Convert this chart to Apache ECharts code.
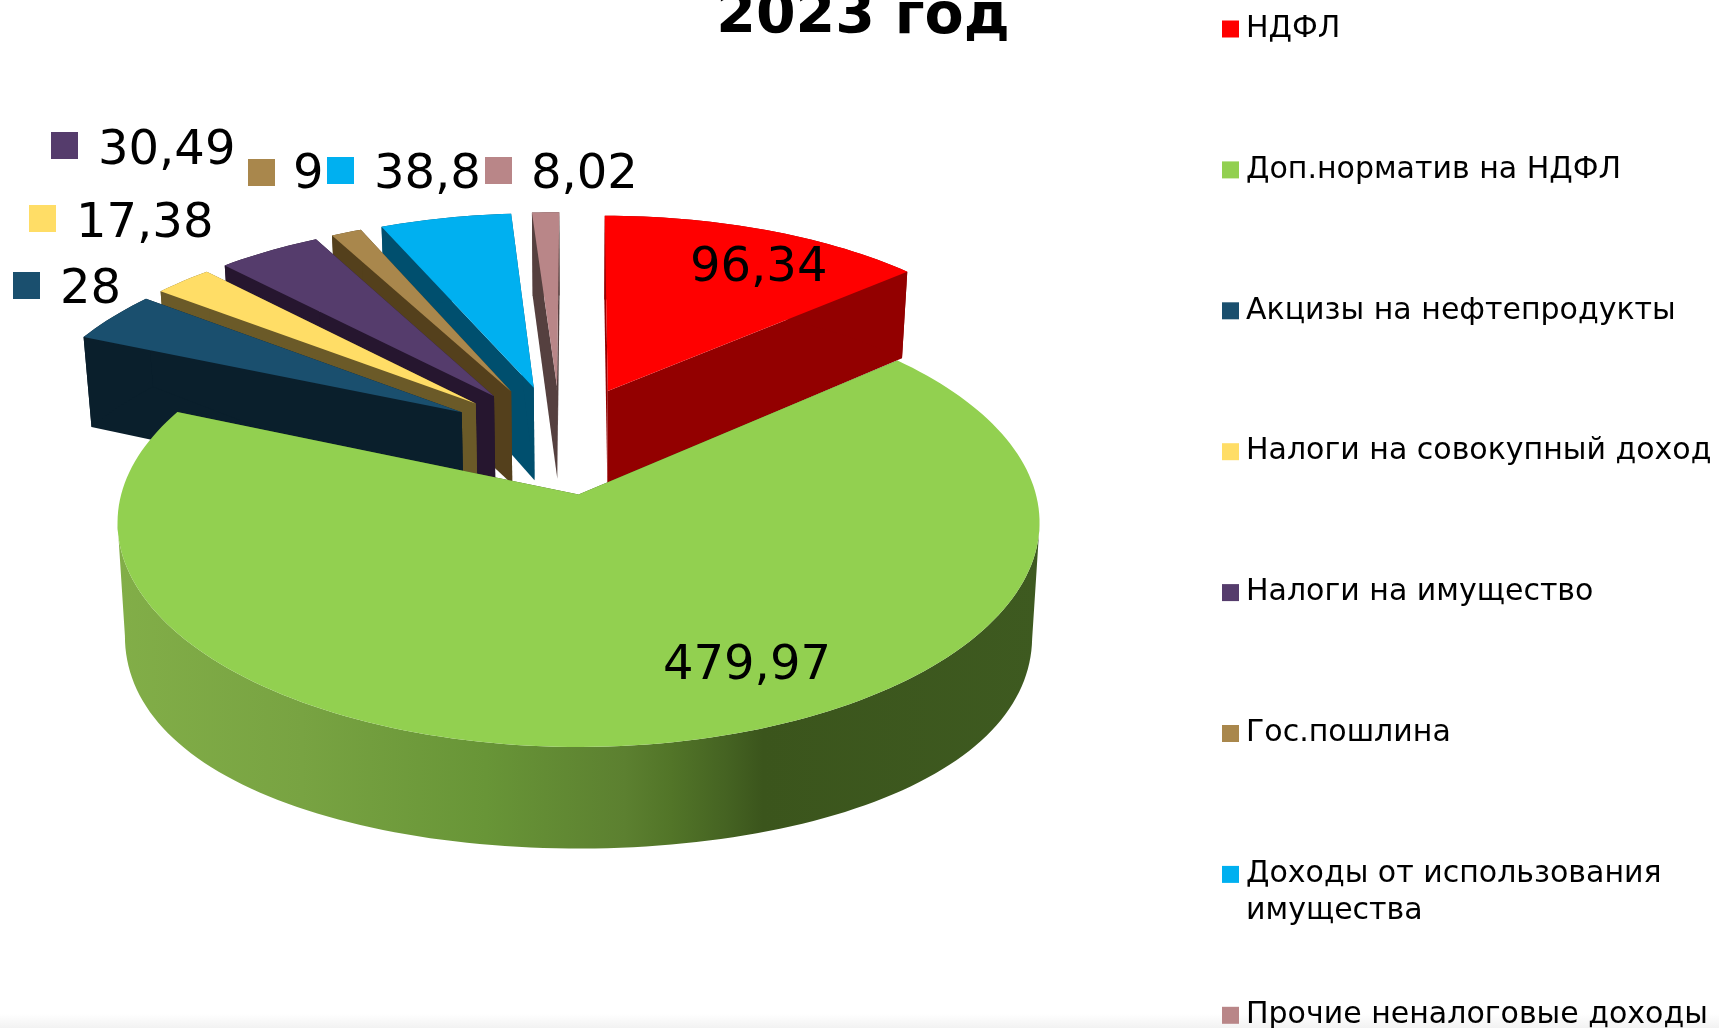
<!DOCTYPE html>
<html>
<head>
<meta charset="utf-8">
<title>2023 год</title>
<style>
  html, body { margin: 0; padding: 0; background: #fff; }
  #chart { width: 1719px; height: 1028px; }
</style>
<script src="https://cdn.jsdelivr.net/npm/echarts@6/dist/echarts.min.js"></script>
</head>
<body>
<div id="chart"></div>
<script>
const categories = [
  "НДФЛ",
  "Доп.норматив на НДФЛ",
  "Акцизы на нефтепродукты",
  "Налоги на совокупный доход",
  "Налоги на имущество",
  "Гос.пошлина",
  "Доходы от использования\nимущества",
  "Прочие неналоговые доходы",
];
const values = [96.34, 479.97, 28, 17.38, 30.49, 9, 38.8, 8.02];
const topColors = ["#ff0000", "#92d050", "#1a4f6e", "#ffdd66", "#553c6c", "#a9874c", "#00b0f0", "#b98688"];
const wallColors = ["#930000", "#3e5a20", "#0a1f2c", "#6b5a28", "#26162f", "#54401c", "#004f6e", "#55403f"];

// pseudo 3d view of the pie plane
const PERSPECTIVE = 0.125;
const EXPLODE = 0.2625;
const CENTER = [-0.042, 0.2525];
const BOTTOM_SCALE = 0.984;
const total = values.reduce((a, b) => a + b, 0);

// slice angles, clockwise from 12 o'clock
const slices = [];
let acc = 0;
values.forEach((v, i) => {
  const start = (acc / total) * Math.PI * 2;
  acc += v;
  const end = (acc / total) * Math.PI * 2;
  const mid = (start + end) / 2;
  slices.push({
    index: i,
    start,
    end,
    cx: CENTER[0] + EXPLODE * Math.sin(mid),
    cy: CENTER[1] + EXPLODE * Math.cos(mid),
  });
});

function project(X, Y) {
  const d = 1 + PERSPECTIVE * Y;
  return [X / d, Y / d];
}
function projectBottom(X, Y) {
  const p = project(X, Y);
  // wall height in px, the bottom disc is flatter than the top one
  const wallPx = Y > 0.47 ? 97 - 9 * Y : 110.5 - 28.4 * Y - 37 * Y * Y;
  return [p[0] * BOTTOM_SCALE, p[1] - wallPx / 220.5];
}

function arcPoints(s, fn) {
  const steps = Math.max(4, Math.round((s.end - s.start) * 40));
  const pts = [];
  for (let i = 0; i <= steps; i++) {
    const a = s.start + ((s.end - s.start) * i) / steps;
    pts.push(fn(s.cx + Math.sin(a), s.cy + Math.cos(a)));
  }
  return pts;
}

// part of the arc between its leftmost and rightmost points, that is what shows as the wall
function frontPart(pts) {
  let lo = 0;
  let hi = 0;
  pts.forEach((p, i) => {
    if (p[0] < pts[lo][0]) lo = i;
    if (p[0] > pts[hi][0]) hi = i;
  });
  return pts.slice(Math.min(lo, hi), Math.max(lo, hi) + 1);
}

function renderSlice(s) {
  return function (params, api) {
    const top = arcPoints(s, project);
    const bottom = arcPoints(s, projectBottom);
    const apexTop = project(s.cx, s.cy);
    const apexBottom = projectBottom(s.cx, s.cy);
    const toPx = (pts) => pts.map((p) => api.coord(p));
    const wall = wallColors[s.index];
    let outerFill = wall;
    if (s.index === 1) {
      outerFill = new echarts.graphic.LinearGradient(0, 0, 1, 0, [
        { offset: 0, color: "#82ae48" },
        { offset: 0.2, color: "#78a342" },
        { offset: 0.4, color: "#689537" },
        { offset: 0.55, color: "#5c8030" },
        { offset: 0.6, color: "#527528" },
        { offset: 0.66, color: "#456322" },
        { offset: 0.7, color: "#3b551c" },
        { offset: 1, color: "#3e5a20" },
      ]);
    }
    const n = top.length - 1;
    const outer = frontPart(top).concat(frontPart(bottom).reverse());
    return {
      type: "group",
      children: [
        { type: "polygon", shape: { points: toPx([apexTop, top[0], bottom[0], apexBottom]) }, style: { fill: wall } },
        { type: "polygon", shape: { points: toPx([apexTop, top[n], bottom[n], apexBottom]) }, style: { fill: wall } },
        { type: "polygon", shape: { points: toPx(outer) }, style: { fill: outerFill } },
        { type: "polygon", shape: { points: toPx([apexTop].concat(top)) }, style: { fill: topColors[s.index] } },
      ],
    };
  };
}

// far slices first, the big green one ends up on top
const drawOrder = slices.slice().sort((a, b) => b.cy - a.cy);
const sliceSeries = drawOrder.map((s) => ({
  name: categories[s.index],
  type: "custom",
  coordinateSystem: "cartesian2d",
  silent: true,
  itemStyle: { color: topColors[s.index] },
  data: [[0, 0, values[s.index]]],
  renderItem: renderSlice(s),
}));

// label place on the page: text x, text y, key x, key y (no key on the two inside labels)
const labelPlaces = [
  [690, 269],
  [663, 667],
  [60, 291, 13, 272],
  [76, 225, 29, 205],
  [98, 152, 51, 132],
  [293, 176, 248, 159],
  [374, 176, 327, 157],
  [531, 176, 485, 157],
];

const labelSeries = {
  name: "labels",
  type: "custom",
  coordinateSystem: "cartesian2d",
  silent: true,
  z: 10,
  data: values.map((v, i) => [0, 0, v, i]),
  renderItem: function (params, api) {
    const i = api.value(3);
    const place = labelPlaces[i];
    const children = [
      {
        type: "text",
        style: {
          text: String(api.value(2)).replace(".", ","),
          x: place[0],
          y: place[1],
          font: '48px "DejaVu Sans"',
          fill: "#000",
          verticalAlign: "middle",
        },
      },
    ];
    if (place.length > 2) {
      children.push({
        type: "rect",
        shape: { x: place[2], y: place[3], width: 27, height: 27 },
        style: { fill: topColors[i] },
      });
    }
    return { type: "group", children };
  },
};

// one legend per row; the wrapped row gets blank lines so its key sits on the first line
const legendRows = categories.map((name, i) => {
  const wrapped = name.indexOf("\n") >= 0;
  return {
    data: [name],
    orient: "vertical",
    left: 1222,
    top: 29 + 140.9 * i - (wrapped ? 92.5 : 18.5),
    padding: 0,
    icon: "path://M0 0H17V17H0Z",
    itemWidth: 21,
    itemHeight: 17,
    selectedMode: false,
    formatter: (n) => (n.indexOf("\n") >= 0 ? "\n\n" + n + "\n" : n),
    textStyle: {
      fontFamily: "DejaVu Sans",
      fontSize: 30,
      lineHeight: 37,
      color: "#000",
    },
  };
});

const myChart = echarts.init(document.getElementById("chart"));
myChart.setOption({
  animation: false,
  backgroundColor: "#fff",
  title: {
    text: "2023 год",
    left: 858,
    top: -15,
    textAlign: "center",
    textStyle: { fontFamily: "DejaVu Sans", fontWeight: "bold", fontSize: 57, color: "#000" },
  },
  legend: legendRows,
  grid: { left: 122, width: 914, top: 272.5, height: 441 },
  xAxis: { type: "value", min: -1, max: 1, show: false },
  yAxis: { type: "value", min: -1, max: 1, show: false },
  // soft grey fade along the bottom edge of the slide
  graphic: [
    {
      type: "rect",
      silent: true,
      z: -1,
      shape: { x: 0, y: 1014, width: 1719, height: 14 },
      style: {
        fill: new echarts.graphic.LinearGradient(0, 0, 0, 1, [
          { offset: 0, color: "#ffffff" },
          { offset: 1, color: "#f2f2f2" },
        ]),
      },
    },
  ],
  series: sliceSeries.concat([labelSeries]),
});
</script>
</body>
</html>
